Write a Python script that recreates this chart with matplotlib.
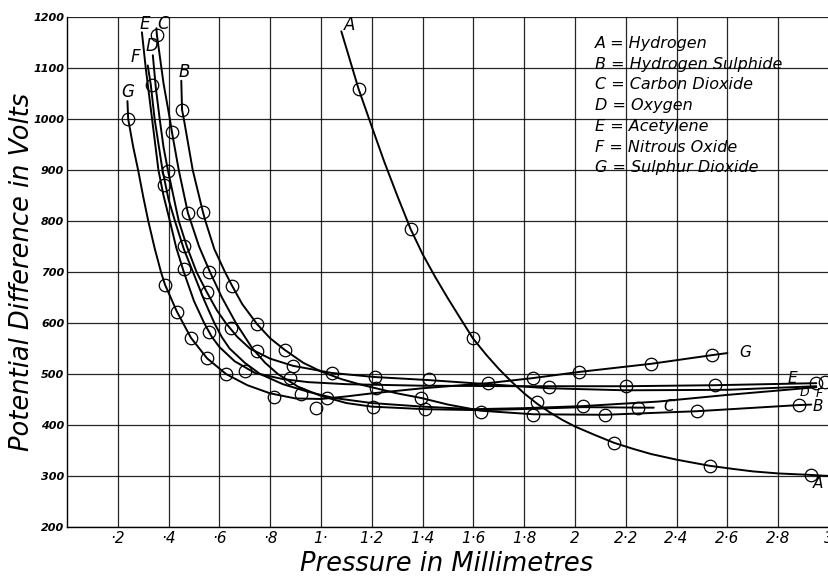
import numpy as np
import matplotlib.pyplot as plt

# pressure (mm) / potential difference (volts)
gases = ['A', 'B', 'C', 'D', 'E', 'F', 'G']
names = ['Hydrogen', 'Hydrogen Sulphide', 'Carbon Dioxide', 'Oxygen',
         'Acetylene', 'Nitrous Oxide', 'Sulphur Dioxide']

# traced curves
a_p = [1.08, 1.148, 1.2, 1.25, 1.3, 1.353, 1.4, 1.45, 1.5, 1.55, 1.598, 1.65, 1.7, 1.75, 1.8,
       1.85, 1.9, 1.95, 2.0, 2.08, 2.154, 2.23, 2.3, 2.4, 2.53, 2.62, 2.7, 2.8, 2.93, 3.0]
a_v = [1172, 1059, 985, 915, 850, 784, 735, 690, 648, 608, 570, 538, 510, 485, 462,
       442, 425, 410, 397, 380, 365, 353, 343, 332, 320, 314, 309, 305, 302, 300]
b_p = [0.45, 0.453, 0.46, 0.495, 0.535, 0.545, 0.58, 0.622, 0.65, 0.69, 0.748, 0.8, 0.858,
       0.93, 1.0, 1.08, 1.15, 1.3, 1.394, 1.5, 1.63, 1.835, 2.118, 2.48, 2.88, 2.93]
b_v = [1075, 1018, 1000, 900, 818, 800, 745, 700, 673, 637, 598, 570, 547,
       522, 505, 490, 480, 462, 453, 440, 428, 421, 420, 427, 439, 440]
c_p = [0.352, 0.354, 0.38, 0.405, 0.413, 0.44, 0.476, 0.52, 0.563, 0.61, 0.665, 0.73, 0.78,
       0.83, 0.91, 1.0, 1.1, 1.2, 1.409, 1.63, 1.85, 2.03, 2.25, 2.31]
c_v = [1178, 1165, 1070, 1000, 975, 900, 816, 750, 700, 650, 600, 550, 522,
       500, 475, 457, 443, 436, 431, 429, 432, 435, 434, 434]
d_p = [0.338, 0.35, 0.365, 0.38, 0.398, 0.44, 0.472, 0.51, 0.55, 0.59, 0.625, 0.67, 0.72,
       0.80, 0.89, 1.043, 1.213, 1.425, 1.657, 1.898, 2.2, 2.6, 2.95]
d_v = [1125, 1060, 1000, 945, 898, 800, 750, 700, 661, 625, 600, 573, 550,
       530, 516, 502, 494, 488, 480, 472, 468, 469, 476]
e_p = [0.295, 0.31, 0.335, 0.36, 0.38, 0.405, 0.43, 0.46, 0.5, 0.54, 0.57, 0.60, 0.66,
       0.74, 0.85, 0.95, 1.1, 1.4, 1.8, 2.2, 2.55, 2.95]
e_v = [1170, 1100, 1000, 900, 850, 800, 748, 700, 643, 600, 573, 553, 525,
       502, 490, 484, 480, 477, 476, 476, 478, 482]
f_p = [0.318, 0.33, 0.345, 0.376, 0.40, 0.425, 0.46, 0.496, 0.54, 0.58, 0.61, 0.64, 0.70,
       0.76, 0.85, 0.95, 1.05, 1.2, 1.4, 1.6, 1.8, 2.03, 2.33, 2.6, 2.95]
f_v = [1105, 1067, 1000, 900, 842, 800, 745, 700, 645, 600, 572, 550, 522,
       500, 480, 465, 453, 443, 436, 431, 433, 437, 446, 459, 474]
g_p = [0.238, 0.241, 0.26, 0.28, 0.30, 0.32, 0.345, 0.37, 0.386, 0.433, 0.488, 0.551, 0.626,
       0.71, 0.80, 0.90, 1.0, 1.1, 1.2, 1.4, 1.657, 1.835, 2.016, 2.30, 2.54, 2.6]
g_v = [1035, 1000, 947, 900, 848, 800, 747, 700, 675, 622, 571, 531, 500,
       478, 462, 452, 451, 456, 462, 472, 482, 492, 504, 520, 537, 541]

# observed points (circles)
obs_p = [1.148, 1.353, 1.598, 2.154, 2.53, 2.93,
         0.453, 0.535, 0.65, 0.748, 0.858, 1.394, 1.63, 1.835, 2.118, 2.48, 2.88,
         0.354, 0.413, 0.476, 0.559, 0.98, 1.205, 1.409, 2.03, 2.25,
         0.398, 0.46, 0.551, 0.646, 0.748, 0.89, 1.043, 1.213, 1.425, 1.898,
         0.382, 0.46, 0.559, 0.70, 0.878, 1.217, 2.2, 2.55, 2.95,
         0.335, 0.921, 1.85, 2.985,
         0.24, 0.386, 0.433, 0.488, 0.551, 0.626, 0.815, 1.024, 1.657, 1.835, 2.016, 2.30, 2.54]
obs_v = [1059, 784, 570, 365, 320, 302,
         1018, 818, 673, 598, 547, 453, 426, 420, 420, 427, 439,
         1165, 975, 816, 700, 433, 435, 431, 437, 433,
         898, 751, 661, 590, 545, 516, 502, 494, 490, 475,
         871, 706, 582, 506, 492, 473, 476, 478, 482,
         1067, 461, 445, 484,
         1000, 675, 622, 571, 531, 500, 455, 453, 482, 492, 504, 520, 537]

x_ticks = [0.2, 0.4, 0.6, 0.8, 1.0, 1.2, 1.4, 1.6, 1.8, 2.0, 2.2, 2.4, 2.6, 2.8, 3.0]
x_labels = ['·2', '·4', '·6', '·8', '1·', '1·2', '1·4', '1·6', '1·8', '2',
            '2·2', '2·4', '2·6', '2·8', '3']
y_ticks = list(range(200, 1201, 100))

fig = plt.figure(figsize=(8.29, 5.77), dpi=100)
ax = fig.add_axes([0.0808, 0.0867, 0.9192, 0.8838])

curves = [(a_p, a_v), (b_p, b_v), (c_p, c_v), (d_p, d_v), (e_p, e_v), (f_p, f_v), (g_p, g_v)]
for p, v in curves:
    ax.plot(p, v, color='black', lw=1.4, solid_capstyle='round', solid_joinstyle='round', zorder=3)

ax.plot(obs_p, obs_v, linestyle='none', marker='o', markersize=9,
        markerfacecolor='none', markeredgecolor='black', markeredgewidth=0.9, zorder=4)

# curve letters, top end and right end
top_lbl = {'A': (1.114, 1184), 'B': (0.46, 1092), 'C': (0.378, 1186), 'D': (0.335, 1143),
           'E': (0.305, 1186), 'F': (0.268, 1122), 'G': (0.24, 1053)}
end_lbl = {'A': (2.957, 285), 'B': (2.955, 436), 'C': (2.37, 436), 'D': (2.905, 463),
           'E': (2.855, 492), 'F': (2.962, 461), 'G': (2.67, 543)}
for g in gases:
    ax.text(*top_lbl[g], g, fontsize=12, style='italic', ha='center', va='center', zorder=5)
    ax.text(*end_lbl[g], g, fontsize=11 if g not in 'DF' else 9, style='italic',
            ha='center', va='center', zorder=5)

for i, (g, n) in enumerate(zip(gases, names)):
    ax.text(2.08, 1148 - i * 40.6, g + ' = ' + n, fontsize=11.5, style='italic',
            ha='left', va='center', zorder=5)

ax.set_xlim(0, 3.0)
ax.set_ylim(200, 1200)
ax.set_xticks(x_ticks)
ax.set_xticklabels(x_labels, fontsize=11, style='italic')
ax.set_yticks(y_ticks)
ax.set_yticklabels([str(t) for t in y_ticks], fontsize=8, style='italic', fontweight='bold')
ax.tick_params(axis='x', length=0, pad=3)
ax.tick_params(axis='y', length=0, pad=2)
ax.grid(True, color='black', lw=0.9, alpha=0.85)
ax.set_axisbelow(True)
for s in ['top', 'right']:
    ax.spines[s].set_visible(False)
for s in ['left', 'bottom']:
    ax.spines[s].set_linewidth(1.0)

fig.text(447 / 829, 1 - 564 / 577, 'Pressure in Millimetres', fontsize=18.5, style='italic',
         ha='center', va='center')
fig.text(22 / 829, 1 - 272 / 577, 'Potential Difference in Volts', fontsize=18.5, style='italic',
         rotation=90, ha='center', va='center')

fig.savefig('out.png', dpi=100)
